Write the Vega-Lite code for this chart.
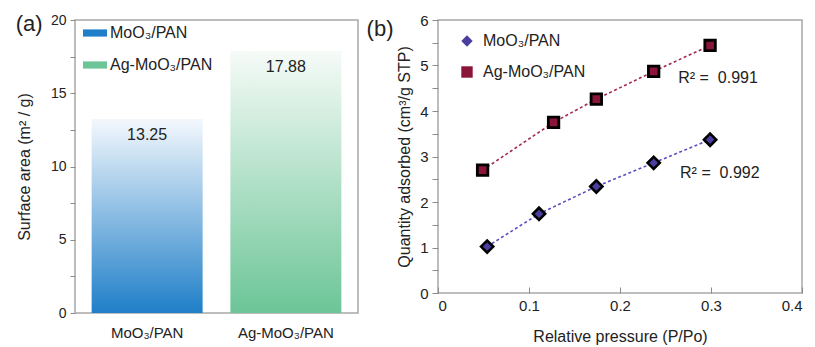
{
  "$schema": "https://vega.github.io/schema/vega-lite/v6.json",
  "padding": {"left": 14, "top": 12, "right": 2, "bottom": 0},
  "config": {
    "font": "Liberation Sans",
    "view": {"stroke": "#a8a8a8", "strokeWidth": 1.5},
    "axis": {"domain": false, "grid": false, "tickColor": "#8a8a8a", "labelColor": "#222222", "titleColor": "#222222", "titleFontWeight": "normal", "labelFontSize": 14, "titleFontSize": 16}
  },
  "datasets": {
    "bars": [
      {"sample": "MoO₃/PAN", "area": 13.25},
      {"sample": "Ag-MoO₃/PAN", "area": 17.88}
    ],
    "iso": [
      {"series": "MoO₃/PAN", "p": 0.054, "q": 1.02},
      {"series": "MoO₃/PAN", "p": 0.111, "q": 1.74},
      {"series": "MoO₃/PAN", "p": 0.174, "q": 2.34},
      {"series": "MoO₃/PAN", "p": 0.237, "q": 2.86},
      {"series": "MoO₃/PAN", "p": 0.299, "q": 3.37},
      {"series": "Ag-MoO₃/PAN", "p": 0.049, "q": 2.70},
      {"series": "Ag-MoO₃/PAN", "p": 0.127, "q": 3.75},
      {"series": "Ag-MoO₃/PAN", "p": 0.174, "q": 4.26},
      {"series": "Ag-MoO₃/PAN", "p": 0.237, "q": 4.87},
      {"series": "Ag-MoO₃/PAN", "p": 0.299, "q": 5.44}
    ]
  },
  "resolve": {"scale": {"color": "independent", "shape": "independent"}, "legend": {"color": "independent", "shape": "independent"}},
  "spacing": 6,
  "hconcat": [
    {
      "width": 283,
      "height": 293,
      "data": {"name": "bars"},
      "encoding": {
        "x": {"field": "sample", "type": "nominal", "scale": {"domain": ["MoO₃/PAN", "Ag-MoO₃/PAN"], "paddingInner": 0.2, "paddingOuter": 0.12}, "axis": {"title": null, "ticks": false, "labelAngle": 0, "labelPadding": 12, "labelFontSize": 15}},
        "y": {"field": "area", "type": "quantitative", "scale": {"domain": [0, 20], "nice": false}, "axis": {"title": "Surface area (m² / g)", "values": [0, 2.5, 5, 7.5, 10, 12.5, 15, 17.5, 20], "format": "~g", "labelExpr": "datum.value % 5 === 0 ? datum.label : ''", "tickSize": 5, "labelPadding": 4, "titlePadding": 18}}
      },
      "layer": [
        {
          "transform": [{"filter": "datum.sample === 'MoO₃/PAN'"}],
          "mark": {"type": "bar", "color": {"gradient": "linear", "x1": 0, "y1": 1, "x2": 0, "y2": 0, "stops": [{"offset": 0, "color": "#1f7fc8"}, {"offset": 1, "color": "#f4f8fd"}]}}
        },
        {
          "transform": [{"filter": "datum.sample === 'Ag-MoO₃/PAN'"}],
          "mark": {"type": "bar", "color": {"gradient": "linear", "x1": 0, "y1": 1, "x2": 0, "y2": 0, "stops": [{"offset": 0, "color": "#6cc597"}, {"offset": 1, "color": "#f6fbf8"}]}}
        },
        {
          "mark": {"type": "text", "dy": 16, "fontSize": 16, "color": "#222222", "baseline": "middle"},
          "encoding": {"text": {"field": "area", "type": "quantitative", "format": ".2f"}}
        },
        {
          "mark": {"type": "point", "filled": true, "opacity": 0, "size": 0},
          "encoding": {
            "color": {"field": "sample", "type": "nominal", "scale": {"domain": ["MoO₃/PAN", "Ag-MoO₃/PAN"], "range": ["#1f7fc8", "#6cc597"]},
              "legend": {"title": null, "orient": "none", "legendX": 8, "legendY": 1, "symbolType": "M-1,-0.3H1V0.3H-1Z", "symbolSize": 576, "symbolOpacity": 1, "symbolStrokeWidth": 0, "labelFontSize": 16, "labelColor": "#222222", "labelOffset": 3, "rowPadding": 12,
                "encode": {"symbols": {"update": {"opacity": {"value": 1}, "fillOpacity": {"value": 1}, "fill": [
                  {"test": "datum.value === 'MoO₃/PAN'", "value": {"gradient": "linear", "x1": 0, "y1": 0, "x2": 1, "y2": 0, "stops": [{"offset": 0, "color": "#ffffff"}, {"offset": 1, "color": "#1f7fc8"}]}},
                  {"value": {"gradient": "linear", "x1": 0, "y1": 0, "x2": 1, "y2": 0, "stops": [{"offset": 0, "color": "#ffffff"}, {"offset": 1, "color": "#6cc597"}]}}
                ]}}}}}
          }
        },
        {
          "transform": [{"filter": "datum.sample === 'MoO₃/PAN'"}],
          "mark": {"type": "text", "text": "(a)", "fontSize": 22, "color": "#222222", "baseline": "middle", "align": "center", "dx": -118},
          "encoding": {"x": {"datum": "MoO₃/PAN", "type": "nominal"}, "y": {"datum": 19.73, "type": "quantitative"}}
        }
      ]
    },
    {
      "width": 364,
      "height": 273,
      "data": {"name": "iso"},
      "encoding": {
        "x": {"field": "p", "type": "quantitative", "scale": {"domain": [0, 0.4], "nice": false}, "axis": {"title": "Relative pressure (P/Po)", "values": [0, 0.1, 0.2, 0.3, 0.4], "format": "~g", "tickSize": -6, "labelPadding": 11, "labelFontSize": 15, "titlePadding": 15}},
        "y": {"field": "q", "type": "quantitative", "scale": {"domain": [0, 6], "nice": false}, "axis": {"title": "Quantity adsorbed (cm³/g STP)", "values": [0, 0.5, 1, 1.5, 2, 2.5, 3, 3.5, 4, 4.5, 5, 5.5, 6], "format": "~g", "labelExpr": "datum.value % 1 === 0 ? datum.label : ''", "tickSize": 6, "labelPadding": 4, "labelFontSize": 15, "titlePadding": 7}}
      },
      "layer": [
        {
          "transform": [{"filter": "datum.series === 'MoO₃/PAN'"}],
          "mark": {"type": "line", "color": "#5a4fc2", "strokeDash": [3, 2.5], "strokeWidth": 1.6}
        },
        {
          "transform": [{"filter": "datum.series === 'Ag-MoO₃/PAN'"}],
          "mark": {"type": "line", "color": "#a02a50", "strokeDash": [3, 2.5], "strokeWidth": 1.6}
        },
        {
          "transform": [{"filter": "datum.series === 'MoO₃/PAN'"}],
          "mark": {"type": "point", "filled": true, "stroke": "#000000", "strokeWidth": 2.6, "opacity": 1, "size": 150},
          "encoding": {
            "color": {"field": "series", "type": "nominal", "scale": {"domain": ["MoO₃/PAN", "Ag-MoO₃/PAN"], "range": ["#4a3f9e", "#8a1538"]},
              "legend": {"title": null, "orient": "none", "legendX": 21, "legendY": 13, "symbolSize": 130, "symbolStrokeWidth": 0, "symbolOpacity": 1, "labelFontSize": 16, "labelColor": "#222222", "labelOffset": 8, "rowPadding": 15}},
            "shape": {"field": "series", "type": "nominal", "scale": {"domain": ["MoO₃/PAN", "Ag-MoO₃/PAN"], "range": ["diamond", "square"]}}
          }
        },
        {
          "transform": [{"filter": "datum.series === 'Ag-MoO₃/PAN'"}],
          "mark": {"type": "point", "filled": true, "stroke": "#000000", "strokeWidth": 2.8, "opacity": 1, "size": 110},
          "encoding": {
            "color": {"field": "series", "type": "nominal", "scale": {"domain": ["MoO₃/PAN", "Ag-MoO₃/PAN"], "range": ["#4a3f9e", "#8a1538"]}},
            "shape": {"field": "series", "type": "nominal", "scale": {"domain": ["MoO₃/PAN", "Ag-MoO₃/PAN"], "range": ["diamond", "square"]}}
          }
        },
        {
          "transform": [{"filter": "datum.series === 'Ag-MoO₃/PAN' && datum.p === 0.299"}],
          "mark": {"type": "text", "text": "R² = \u00a00.991", "align": "left", "baseline": "middle", "fontSize": 16, "color": "#222222"},
          "encoding": {"x": {"datum": 0.264, "type": "quantitative"}, "y": {"datum": 4.72, "type": "quantitative"}}
        },
        {
          "transform": [{"filter": "datum.series === 'MoO₃/PAN' && datum.p === 0.299"}],
          "mark": {"type": "text", "text": "R² = \u00a00.992", "align": "left", "baseline": "middle", "fontSize": 16, "color": "#222222"},
          "encoding": {"x": {"datum": 0.266, "type": "quantitative"}, "y": {"datum": 2.63, "type": "quantitative"}}
        },
        {
          "transform": [{"filter": "datum.series === 'MoO₃/PAN' && datum.p === 0.299"}],
          "mark": {"type": "text", "text": ["", "(b)"], "lineHeight": 5.3, "fontSize": 22, "color": "#222222", "baseline": "top", "align": "center"},
          "encoding": {"x": {"datum": -0.0637, "type": "quantitative"}, "y": {"datum": 6.132, "type": "quantitative"}}
        }
      ]
    }
  ]
}
